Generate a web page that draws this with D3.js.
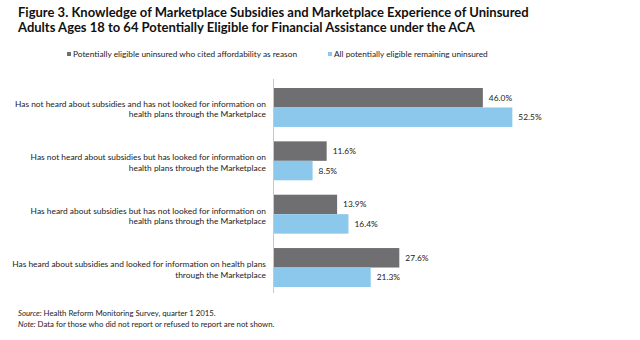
<!DOCTYPE html>
<html><head><meta charset="utf-8">
<script src="https://cdn.jsdelivr.net/npm/d3@7"></script>
<style>body{margin:0;background:#fff;} svg{display:block;font-family:Lato,"Open Sans",sans-serif;}</style>
</head><body>
<svg id="c" width="640" height="340"></svg>
<script>
const categories = [
  ["Has not heard about subsidies and has not looked for information on", "health plans through the Marketplace"],
  ["Has not heard about subsidies but has looked for information on", "health plans through the Marketplace"],
  ["Has heard about subsidies but has not looked for information on", "health plans through the Marketplace"],
  ["Has heard about subsidies and looked for information on health plans", "through the Marketplace"]
];
const seriesNames = ["Potentially eligible uninsured who cited affordability as reason", "All potentially eligible remaining uninsured"];
const affordability = [46.0, 11.6, 13.9, 27.6];
const allRemaining = [52.5, 8.5, 16.4, 21.3];
const colors = ["#6f6f71", "#8cc8eb"];

const svg = d3.select("#c");
const series = [affordability, allRemaining];

// Title
const title = svg.append("text").attr("x", 18).attr("y", 17).attr("font-weight", "bold").attr("font-size", 13).attr("fill", "#111");
title.append("tspan").attr("x", 18).attr("dy", 0).text("Figure 3. Knowledge of Marketplace Subsidies and Marketplace Experience of Uninsured");
title.append("tspan").attr("x", 18).attr("dy", 15).text("Adults Ages 18 to 64 Potentially Eligible for Financial Assistance under the ACA");

// Legend
const legX = [67, 328];
seriesNames.forEach((n, i) => {
  svg.append("rect").attr("x", legX[i]).attr("y", 52).attr("width", 4).attr("height", 4).attr("fill", colors[i]);
  svg.append("text").attr("x", legX[i] + 6).attr("y", 57).attr("font-size", 8.3).attr("fill", "#222").text(n);
});

// Scales
const idx = categories.map((d, i) => i);
const y = d3.scaleBand().domain(idx).range([80.8, 294.2]).paddingInner(0.27).paddingOuter(0.135);
const ySub = d3.scaleBand().domain([0, 1]).range([0, y.bandwidth()]);
const x = d3.scaleLinear().domain([0, 60]).range([274, 274 + 60 * 4.54]);

// Bars
series.forEach((vals, s) => {
  const g = svg.append("g");
  g.selectAll("rect").data(vals).join("rect")
    .attr("x", x(0)).attr("y", (d, i) => y(i) + ySub(s))
    .attr("width", d => x(d) - x(0)).attr("height", ySub.bandwidth())
    .attr("fill", colors[s]);
  g.selectAll("text").data(vals).join("text")
    .attr("x", d => x(d) + 6).attr("y", (d, i) => y(i) + ySub(s) + ySub.bandwidth() / 2 + 3)
    .attr("font-size", 8.4).attr("fill", "#222").text(d => d.toFixed(1) + "%");
});

// Axis line
svg.append("line").attr("x1", 273.5).attr("x2", 273.5).attr("y1", 79).attr("y2", 293).attr("stroke", "#c8c8c8").attr("stroke-width", 1);

// Category labels
categories.forEach((lines, i) => {
  const cy = y(i) + y.bandwidth() / 2;
  const t = svg.append("text").attr("text-anchor", "end").attr("font-size", 8.4).attr("fill", "#222");
  lines.forEach((l, j) => {
    t.append("tspan").attr("x", 266).attr("y", cy - 0.5 + j * 10.5).text(l);
  });
});

// Footnotes
const src = svg.append("text").attr("x", 18).attr("y", 316).attr("font-size", 7.8).attr("fill", "#222");
src.append("tspan").attr("font-style", "italic").text("Source: ");
src.append("tspan").text("Health Reform Monitoring Survey, quarter 1 2015.");
const note = svg.append("text").attr("x", 18).attr("y", 327).attr("font-size", 7.8).attr("fill", "#222");
note.append("tspan").attr("font-style", "italic").text("Note: ");
note.append("tspan").text("Data for those who did not report or refused to report are not shown.");
</script>
</body></html>
